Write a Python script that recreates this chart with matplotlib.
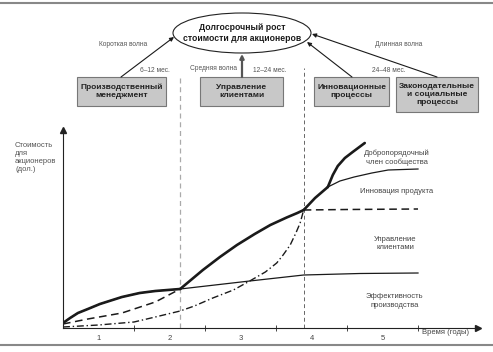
# REQUIRED: matplotlib, numpy
import matplotlib.pyplot as plt
from matplotlib.patches import Ellipse, Rectangle

plt.rcParams['font.family'] = ['Liberation Sans', 'DejaVu Sans']

# --- data (x in years, y in arbitrary value units) ---
eff_x = [0, 0.1, 0.21, 0.35, 0.52, 0.83, 1.08, 1.3, 1.65, 2.14, 2.63, 3.39, 4.18, 5.0]
eff_y = [0.5, 1.0, 1.5, 1.9, 2.4, 3.1, 3.5, 3.7, 3.9, 4.3, 4.7, 5.3, 5.45, 5.5]

cust_x = [0, 0.35, 0.83, 1.3, 1.65, 1.97, 2.21, 2.45, 2.7, 2.92, 3.15, 3.3, 3.39, 4.0, 5.0]
cust_y = [0.4, 0.9, 1.5, 2.6, 3.9, 5.8, 7.1, 8.3, 9.4, 10.3, 11.05, 11.5, 11.8, 11.85, 11.9]

innov_x = [0, 0.5, 1.0, 1.3, 1.65, 1.85, 2.11, 2.4, 2.63, 2.85, 3.01, 3.1, 3.2, 3.28,
           3.34, 3.39, 3.55, 3.73, 3.9, 4.1, 4.35, 4.58, 5.0]
innov_y = [0.1, 0.3, 0.6, 1.1, 1.7, 2.2, 3.0, 3.8, 4.7, 5.6, 6.5, 7.3, 8.3, 9.5,
           10.5, 11.8, 13.0, 14.1, 14.7, 15.1, 15.5, 15.8, 15.9]

soc_x = [3.73, 3.8, 3.87, 3.97, 4.08, 4.25]
soc_y = [14.1, 15.3, 16.2, 17.0, 17.6, 18.5]

wave_x = [1.65, 3.39]          # boundaries between waves
year_ticks = [1, 2, 3, 4, 5]
year_labels = ['1', '2', '3', '4', '5']

W, H = 493, 352
fig = plt.figure(figsize=(W / 100, H / 100), dpi=100)

# main chart: px 63..478 horizontally, 328..130 vertically
ax = fig.add_axes([63 / W, (H - 328) / H, (478 - 63) / W, (328 - 130) / H])
ax.set_xlim(0, 5.845)
ax.set_ylim(0, 19.8)
ax.patch.set_alpha(0)
for s in ['top', 'right']:
    ax.spines[s].set_visible(False)
for s in ['left', 'bottom']:
    ax.spines[s].set_linewidth(0.8)
    ax.spines[s].set_color('#222222')
ax.plot(1, 0, '>', color='#222222', ms=4, transform=ax.get_yaxis_transform(), clip_on=False)
ax.plot(0, 1, '^', color='#222222', ms=4, transform=ax.get_xaxis_transform(), clip_on=False)
ax.set_yticks([])
ax.set_xticks(year_ticks)
ax.set_xticklabels([])
ax.tick_params(axis='x', which='major', direction='inout', length=5, width=0.7, color='#444444')
ax.set_xticks([t - 0.5 for t in year_ticks], minor=True)
ax.set_xticklabels(year_labels, minor=True, fontsize=5.5, color='#444444')
ax.tick_params(axis='x', which='minor', length=0, pad=5)

thin = 0.9
thick = 1.9
dark = '#1a1a1a'

# wave boundaries
ax.axvline(wave_x[0], ymin=0, ymax=1.268, color='#aaaaaa', lw=0.9, ls=(0, (4, 3)), clip_on=False)
ax.axvline(wave_x[1], ymin=0, ymax=1.313, color='#666666', lw=0.7, ls=(0, (4, 3)), clip_on=False)

# production efficiency
ax.plot(eff_x, eff_y, color=dark, lw=thin)
# customer management
ax.plot(cust_x[:5], cust_y[:5], color=dark, lw=1.1, ls=(0, (5, 3)))
ax.plot(cust_x[12:], cust_y[12:], color=dark, lw=1.1, ls=(0, (5, 3)))
# product innovation
ax.plot(innov_x[:16], innov_y[:16], color=dark, lw=1.0, ls=(0, (5, 2, 1, 2)))
ax.plot(innov_x[17:], innov_y[17:], color=dark, lw=thin)
# envelope (thick)
ax.plot(eff_x[:9], eff_y[:9], color=dark, lw=thick, solid_capstyle='round')
ax.plot(cust_x[4:13], cust_y[4:13], color=dark, lw=thick, solid_capstyle='round')
ax.plot(innov_x[15:18], innov_y[15:18], color=dark, lw=thick, solid_capstyle='round')
ax.plot(soc_x, soc_y, color=dark, lw=thick, solid_capstyle='round')

lab = dict(fontsize=5.5, color='#444444', ha='center', va='center', linespacing=1.25)
ax.text(4.7, 17.0, 'Добропорядочный\nчлен сообщества', **lab)
ax.text(4.7, 13.7, 'Инновация продукта', **lab)
ax.text(4.68, 8.45, 'Управление\nклиентами', **lab)
ax.text(4.67, 2.7, 'Эффективность\nпроизводства', **lab)
ax.text(5.05, -0.5, 'Время (годы)', fontsize=5.5, color='#444444', ha='left', va='center')

# overlay in pixel coordinates for the top diagram
ov = fig.add_axes([0, 0, 1, 1])
ov.set_xlim(0, W)
ov.set_ylim(H, 0)
ov.axis('off')
ov.patch.set_alpha(0)

ov.plot([0, W], [3, 3], color='#888888', lw=1.5)
ov.plot([0, W], [345, 345], color='#888888', lw=1.5)

ov.add_patch(Ellipse((242, 33), 138, 40, fc='white', ec='#222222', lw=0.8))
ov.text(242, 33, 'Долгосрочный рост\nстоимости для акционеров', fontsize=6.2,
        fontweight='bold', ha='center', va='center', color='#1a1a1a', linespacing=1.3)

boxes = [
    (77, 77, 89, 29, 'Производственный\nменеджмент'),
    (200, 77, 83, 29, 'Управление\nклиентами'),
    (314, 77, 75, 29, 'Инновационные\nпроцессы'),
    (396, 77, 82, 35, 'Законодательные\nи социальные\nпроцессы'),
]
for bx, by, bw, bh, txt in boxes:
    ov.add_patch(Rectangle((bx, by), bw, bh, fc='#c8c8c8', ec='#777777', lw=0.8))
    ov.text(bx + bw / 2, by + bh / 2, txt, fontsize=6.0, fontweight='bold',
            ha='center', va='center', color='#222222', linespacing=1.3)

arr = dict(arrowstyle='-|>', color='#1a1a1a', lw=0.8, mutation_scale=6, shrinkA=0, shrinkB=0)
ov.annotate('', xy=(174, 37), xytext=(121, 77), arrowprops=arr)
ov.annotate('', xy=(242, 54), xytext=(242, 77),
            arrowprops=dict(arr, color='#555555', lw=1.6))
ov.annotate('', xy=(307, 42), xytext=(352, 77), arrowprops=arr)
ov.annotate('', xy=(312, 34), xytext=(437, 77), arrowprops=arr)

sm = dict(fontsize=4.8, color='#555555', ha='center', va='center')
ov.text(123, 44, 'Короткая волна', **sm)
ov.text(155, 71, '6–12 мес.', **sm)
ov.text(213, 68, 'Средняя волна', **sm)
ov.text(270, 71, '12–24 мес.', **sm)
ov.text(389, 71, '24–48 мес.', **sm)
ov.text(399, 44, 'Длинная волна', **sm)

ov.text(15, 142, 'Стоимость\nдля\nакционеров\n(дол.)', fontsize=5.5, color='#555555',
        ha='left', va='top', linespacing=1.2)

fig.savefig('out.png', dpi=100)
